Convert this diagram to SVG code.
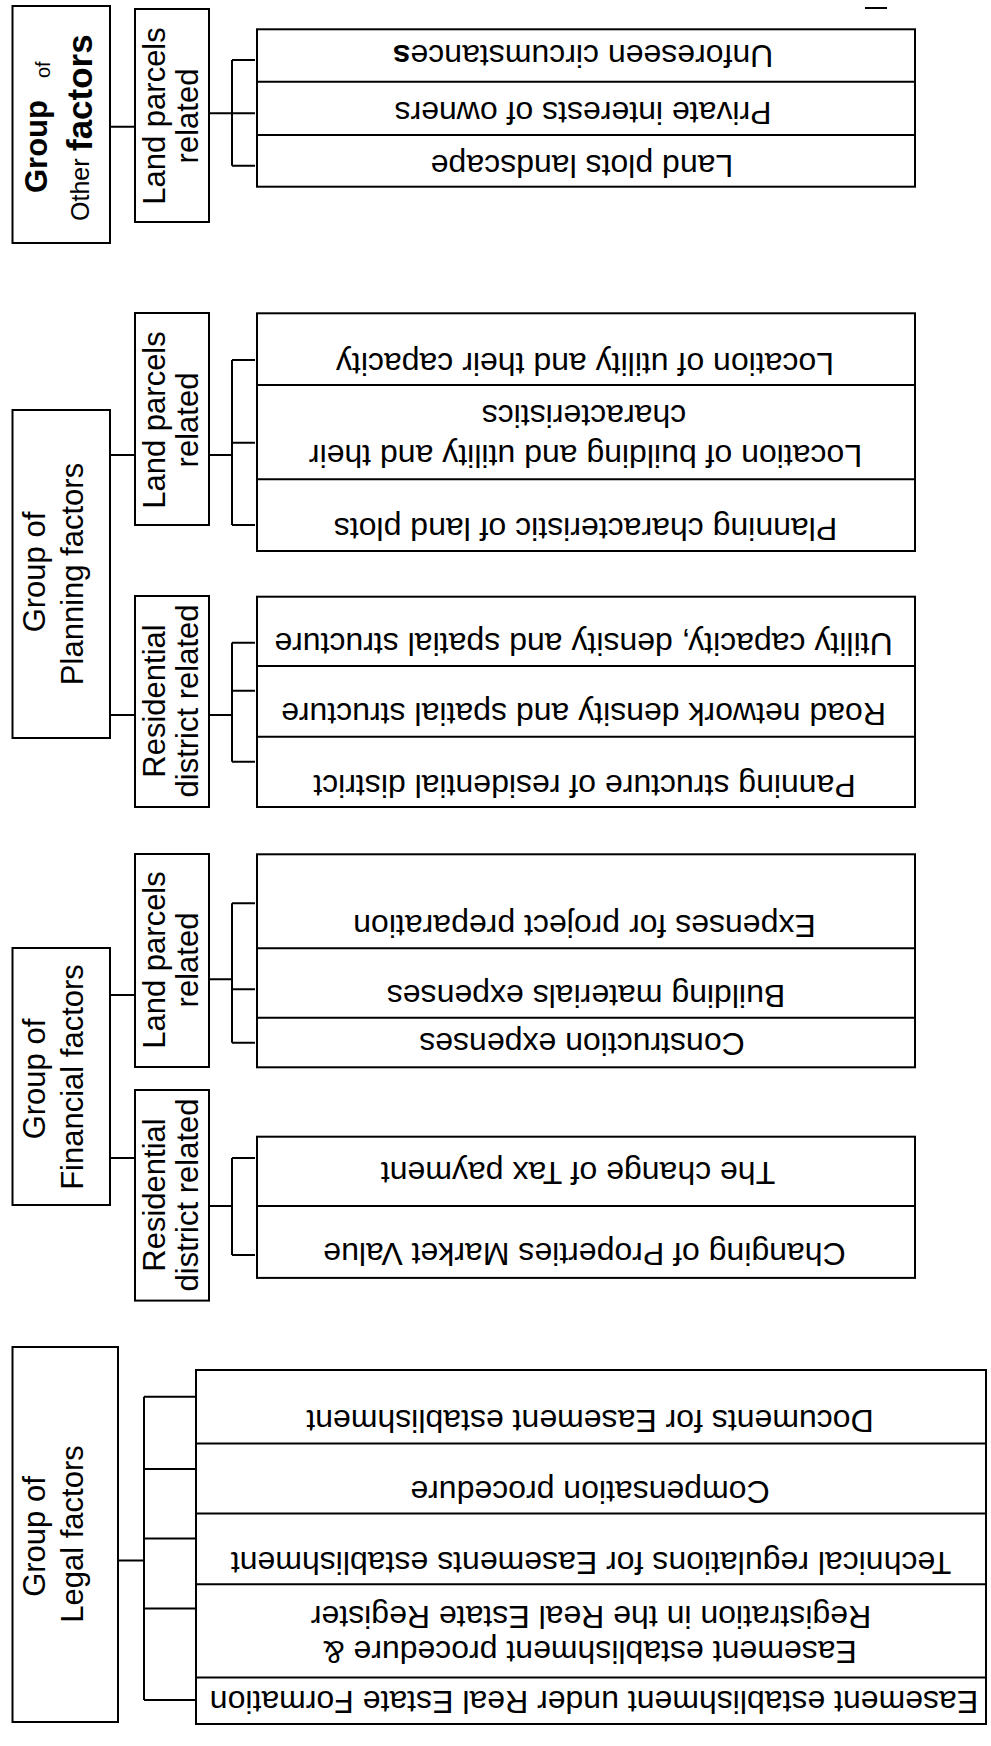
<svg xmlns="http://www.w3.org/2000/svg" width="991" height="1746" viewBox="0 0 991 1746">
<style>
.box{fill:#fff;stroke:#000;stroke-width:2}
.ln{stroke:#000;stroke-width:2;fill:none}
text{font-family:"Liberation Sans",Arial,sans-serif;fill:#000}
.lbl{font-size:31px}
.it{font-size:32px;text-anchor:middle}
.c{text-anchor:middle}
</style>
<rect width="991" height="1746" fill="#fff"/>
<g id="connectors">
<path class="ln" d="M110,126.7H135M209,113.3H232M232,60V165.7M232,60H255M232,113.3H255M232,165.7H255"/>
<path class="ln" d="M110,455H135M110,715H135M209,455H232M232,360V525M232,360H255M232,442.7H255M232,525H255"/>
<path class="ln" d="M209,715H232M232,642.7V761.7M232,642.7H255M232,690.7H255M232,761.7H255"/>
<path class="ln" d="M110,995H135M110,1158H135M209,979.3H232M232,903.3V1042.7M232,903.3H255M232,989.3H255M232,1042.7H255"/>
<path class="ln" d="M209,1206H232M232,1158V1255M232,1158H255M232,1255H255"/>
<path class="ln" d="M118,1560.6H144M144,1396.7V1700M144,1396.7H196M144,1469.1H196M144,1538.6H196M144,1608.4H196M144,1700H196"/>
<path class="ln" d="M865,8H887"/>
</g>
<g id="group-other">
<rect class="box" x="12.5" y="6" width="97.5" height="237"/>
<text class="lbl" transform="rotate(-90)"><tspan x="-193" y="47" font-weight="bold" font-size="31">Group</tspan><tspan x="-78" y="50" font-size="20">of</tspan><tspan x="-221" y="89" font-size="25">Other</tspan><tspan x="-151" y="92" font-weight="bold" font-size="35">factors</tspan></text>
</g>
<g id="other-land">
<rect class="box" x="135" y="9" width="74" height="213"/>
<text class="lbl c" transform="translate(165,116) rotate(-90)">Land parcels</text>
<text class="lbl c" transform="translate(198,116) rotate(-90)">related</text>
</g>
<g id="other-items">
<rect class="box" x="257" y="29.3" width="658" height="157.4"/>
<path class="ln" d="M257,81.7H915M257,135H915"/>
<text class="it" transform="translate(583,45) rotate(180)">Unforeseen circumstance<tspan font-weight="bold">s</tspan></text>
<text class="it" transform="translate(583,102) rotate(180)">Private interests of owners</text>
<text class="it" transform="translate(582,155) rotate(180)">Land plots landscape</text>
</g>
<g id="group-planning">
<rect class="box" x="12.5" y="410" width="97.5" height="328"/>
<text class="lbl c" transform="translate(45,572) rotate(-90)">Group of</text>
<text class="lbl c" transform="translate(83,574) rotate(-90)">Planning factors</text>
</g>
<g id="planning-land">
<rect class="box" x="135" y="313" width="74" height="212"/>
<text class="lbl c" transform="translate(165,420) rotate(-90)">Land parcels</text>
<text class="lbl c" transform="translate(198,420) rotate(-90)">related</text>
</g>
<g id="planning-land-items">
<rect class="box" x="257" y="313.3" width="658" height="237.7"/>
<path class="ln" d="M257,385H915M257,479.3H915"/>
<text class="it" transform="translate(585,353) rotate(180)">Location of utility and their capacity</text>
<text class="it" transform="translate(584,405) rotate(180)">characteristics</text>
<text class="it" transform="translate(585.5,445) rotate(180)">Location of building and utility and their</text>
<text class="it" transform="translate(585.5,518) rotate(180)">Planning characteristic of land plots</text>
</g>
<g id="planning-res">
<rect class="box" x="135" y="596" width="74" height="211"/>
<text class="lbl c" transform="translate(165,701) rotate(-90)">Residential</text>
<text class="lbl c" transform="translate(198,701) rotate(-90)">district related</text>
</g>
<g id="planning-res-items">
<rect class="box" x="257" y="596.7" width="658" height="210.3"/>
<path class="ln" d="M257,666H915M257,736.7H915"/>
<text class="it" transform="translate(583.5,633) rotate(180)">Utility capacity, density and spatial structure</text>
<text class="it" transform="translate(583.5,703) rotate(180)">Road network density and spatial structure</text>
<text class="it" transform="translate(584.5,775) rotate(180)">Panning structure of residential district</text>
</g>
<g id="group-financial">
<rect class="box" x="12.5" y="948" width="97.5" height="257"/>
<text class="lbl c" transform="translate(45,1079) rotate(-90)">Group of</text>
<text class="lbl c" transform="translate(83,1077) rotate(-90)">Financial factors</text>
</g>
<g id="financial-land">
<rect class="box" x="135" y="854" width="74" height="213"/>
<text class="lbl c" transform="translate(165,960) rotate(-90)">Land parcels</text>
<text class="lbl c" transform="translate(198,960) rotate(-90)">related</text>
</g>
<g id="financial-land-items">
<rect class="box" x="257" y="854.3" width="658" height="213"/>
<path class="ln" d="M257,948.3H915M257,1017.7H915"/>
<text class="it" transform="translate(584.5,915) rotate(180)">Expenses for project preparation</text>
<text class="it" transform="translate(586,985) rotate(180)">Building materials expenses</text>
<text class="it" transform="translate(582,1033) rotate(180)">Construction expenses</text>
</g>
<g id="financial-res">
<rect class="box" x="135" y="1090" width="74" height="210.6"/>
<text class="lbl c" transform="translate(165,1195) rotate(-90)">Residential</text>
<text class="lbl c" transform="translate(198,1195) rotate(-90)">district related</text>
</g>
<g id="financial-res-items">
<rect class="box" x="257" y="1136.7" width="658" height="141.2"/>
<path class="ln" d="M257,1206H915"/>
<text class="it" transform="translate(578,1162) rotate(180)">The change of Tax payment</text>
<text class="it" transform="translate(584.5,1243) rotate(180)">Changing of Properties Market Value</text>
</g>
<g id="group-legal">
<rect class="box" x="12.5" y="1347" width="105.5" height="375"/>
<text class="lbl c" transform="translate(45,1536.5) rotate(-90)">Group of</text>
<text class="lbl c" transform="translate(83,1534) rotate(-90)">Legal factors</text>
</g>
<g id="legal-items">
<rect class="box" x="196" y="1370" width="790" height="354"/>
<path class="ln" d="M196,1443.5H986M196,1513.4H986M196,1584.3H986M196,1677.6H986"/>
<text class="it" transform="translate(590,1410) rotate(180)">Documents for Easement establishment</text>
<text class="it" transform="translate(590,1481) rotate(180)">Compensation procedure</text>
<text class="it" transform="translate(591,1551.7) rotate(180)">Technical regulations for Easements establishment</text>
<text class="it" transform="translate(591,1606) rotate(180)">Registration in the Real Estate Register</text>
<text class="it" transform="translate(590,1641) rotate(180)">Easement establishment procedure &amp;</text>
<text class="it" transform="translate(594,1691) rotate(180)">Easement establishment under Real Estate Formation</text>
</g>
</svg>
